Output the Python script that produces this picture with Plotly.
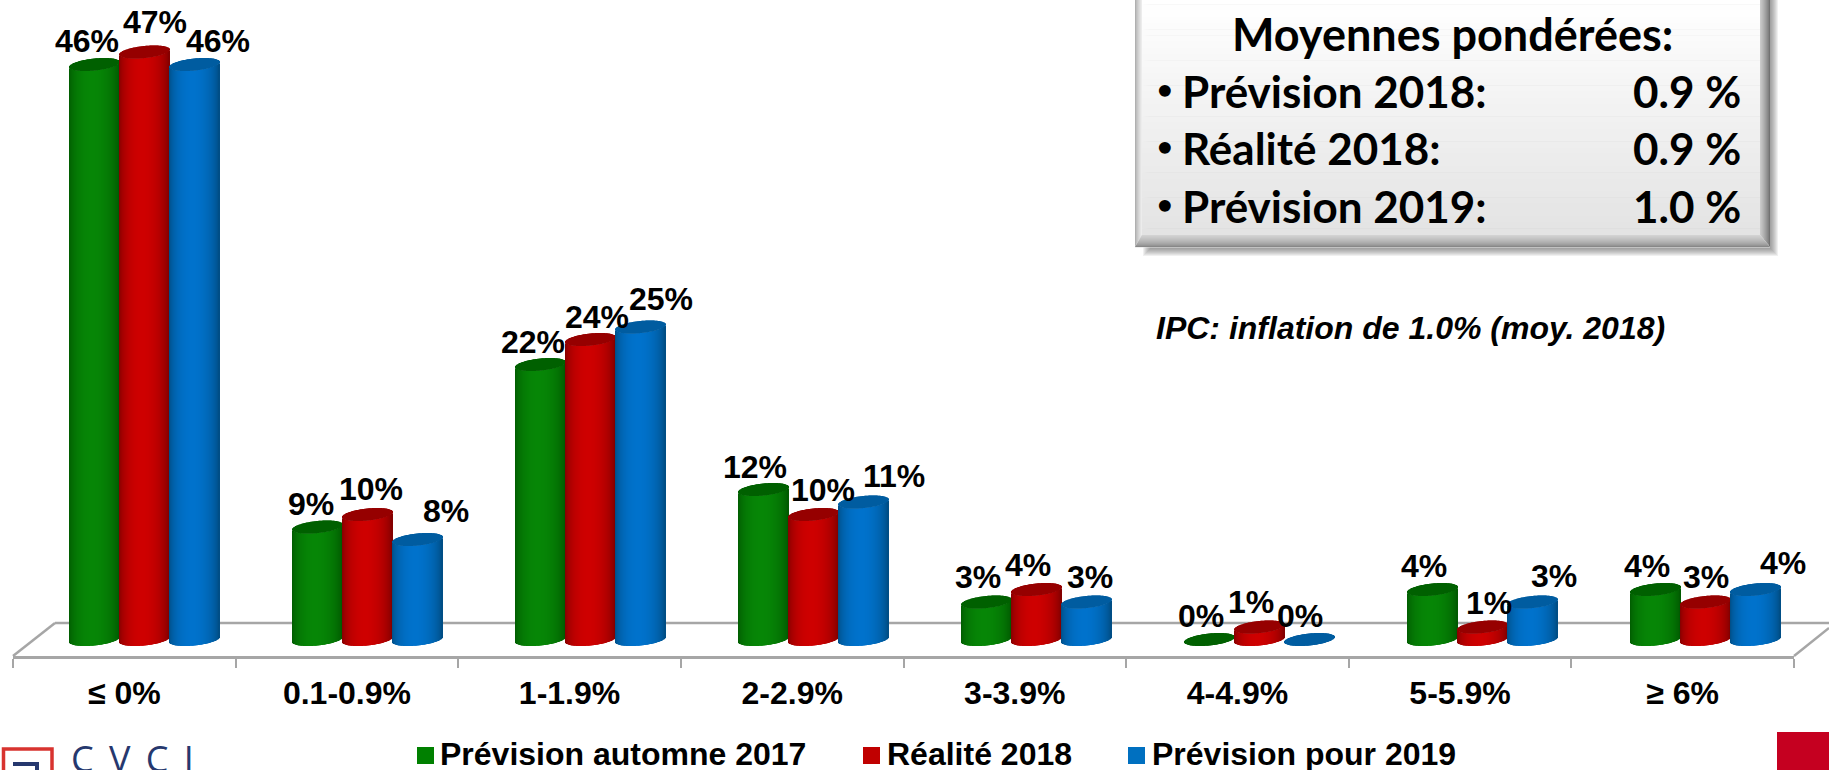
import math
import plotly.graph_objects as go

# ---------- data ----------
categories = ["≤ 0%", "0.1-0.9%", "1-1.9%", "2-2.9%", "3-3.9%", "4-4.9%", "5-5.9%", "≥ 6%"]
prevision_2017 = [46, 9, 22, 12, 3, 0, 4, 4]
realite_2018 = [47, 10, 24, 10, 4, 1, 1, 3]
prevision_2019 = [46, 8, 25, 11, 3, 0, 3, 4]
series_names = ["Prévision automne 2017", "Réalité 2018", "Prévision pour 2019"]

box_title = "Moyennes pondérées:"
box_rows = ["Prévision 2018:", "Réalité 2018:", "Prévision 2019:"]
box_values = ["0.9 %", "0.9 %", "1.0 %"]
note = "IPC: inflation de 1.0% (moy. 2018)"

# ---------- styles / geometry ----------
W, H = 1829, 770
AX_L, AX_R, AX_Y = 13, 1794, 656
PITCH = (AX_R - AX_L) / len(categories)
ZERO_PX, SCALE = 639.5, 12.5          # pixel of value 0, pixels per 1 %
BAR_W = 50
GROUP_SHIFT = 20.5
GROUP_DRIFT = 0.4
ELL_B, ELL_TILT = 6.0, 2.5
STYLES = [
    dict(edge=(0, 84, 0), mid=(6, 134, 6), cap=(0, 96, 0), sw="#008000", off=-50),
    dict(edge=(120, 0, 0), mid=(206, 0, 0), cap=(150, 0, 0), sw="#C00000", off=0),
    dict(edge=(0, 72, 122), mid=(0, 114, 204), cap=(0, 92, 160), sw="#0070C0", off=50),
]
# manual label displacement from the centre of each bar (px): one row per group
LABEL_DX = [[-8, 10, 23], [-7, 3, 28], [-8, 6, 20], [-9, 9, 30],
            [-9, -9, 3], [-9, -9, -10], [-9, 6, 21], [-9, 0, 27]]
LABEL_DY = [[12, 18, 12], [11, 14, 17], [11, 11, 16], [11, 13, 14],
            [13, 13, 13], [12, 13, 12], [12, 12, 14], [12, 13, 15]]

FONT = "Liberation Sans"
LATO = "Lato"


def X(px):
    return (px - AX_L) / (AX_R - AX_L)


def Y(py):
    return (AX_Y - py) / AX_Y


def mix(a, b, f):
    return "rgb(%d,%d,%d)" % tuple(round(a[i] + (b[i] - a[i]) * f) for i in range(3))


def group_shift(i):
    return GROUP_SHIFT + GROUP_DRIFT * i


def series_traces(values, st):
    xs, offs, wid, body_base, body_h, cap_base, cap_h, cols = [], [], [], [], [], [], [], []
    for i, v in enumerate(values):
        for j in range(BAR_W):
            u = (j + .5) / BAR_W * 2 - 1
            r = math.sqrt(1 - u * u)
            t = (u + 1) / 2
            f = math.sin(math.pi * t ** 0.9) ** 0.55
            low = (ELL_TILT * u - ELL_B * r) / SCALE
            xs.append(categories[i])
            offs.append((group_shift(i) + st["off"] - BAR_W / 2 + j) / PITCH)
            wid.append(1 / PITCH)
            body_base.append(low)
            body_h.append(v)
            cap_base.append(v + low)
            cap_h.append(2 * ELL_B * r / SCALE)
            cols.append(mix(st["edge"], st["mid"], f))
    common = dict(x=xs, offset=offs, width=wid, hoverinfo="skip", showlegend=False)
    body = go.Bar(y=body_h, base=body_base, marker=dict(color=cols, line=dict(width=0)), **common)
    cap = go.Bar(y=cap_h, base=cap_base, marker=dict(color="rgb(%d,%d,%d)" % st["cap"], line=dict(width=0)), **common)
    return [body, cap]


fig = go.Figure()
all_series = [prevision_2017, realite_2018, prevision_2019]
for vals, st in zip(all_series, STYLES):
    fig.add_traces(series_traces(vals, st))

shapes = []


def rect(x0, y0, x1, y1, color, layer="above"):
    shapes.append(dict(type="rect", xref="paper", yref="paper", x0=X(x0), x1=X(x1), y0=Y(y0), y1=Y(y1),
                       fillcolor=color, line=dict(width=0), layer=layer))


def line(x0, y0, x1, y1, color="#A6A6A6", w=2.5):
    shapes.append(dict(type="line", xref="paper", yref="paper", x0=X(x0), x1=X(x1), y0=Y(y0), y1=Y(y1),
                       line=dict(color=color, width=w), layer="below"))


def poly(pts, color):
    d = "M " + " L ".join("%.5f,%.5f" % (X(a), Y(b)) for a, b in pts) + " Z"
    shapes.append(dict(type="path", xref="paper", yref="paper", path=d, fillcolor=color,
                       line=dict(width=0), layer="above"))


# floor of the 3-D chart
line(13, 656, 55, 623)
line(55, 623, 1829, 623)
line(1794, 656, 1829, 628)

# summary box: shadow, gradient, bevels
BL, BR, BB = 1135, 1770, 247
for k in range(8):
    rect(BL + 8 + k, -5, BR + 8 - k, BB + 9 - k, "rgba(90,90,90,0.09)")
steps = 40
for k in range(steps):
    y0 = -2 + (BB + 2) * k / steps
    y1 = -2 + (BB + 2) * (k + 1) / steps
    rect(BL, y0, BR, y1 + .5, mix((255, 255, 255), (226, 226, 226), k / (steps - 1)))
# mitred bevel, outside to inside, one thin band at a time
BEV_L, BEV_R, BEV_B = 7, 10, 12
for k in range(BEV_L):
    f = (k + .5) / BEV_L
    g = k / BEV_L
    h = (k + 1) / BEV_L
    poly([(BL + k, -2), (BL + k + 1, -2), (BL + k + 1, BB - BEV_B * h - .5), (BL + k, BB - BEV_B * g)],
         mix((165, 165, 165), (240, 240, 240), f ** 0.7))
for k in range(BEV_R):
    f = (k + .5) / BEV_R
    g = k / BEV_R
    h = (k + 1) / BEV_R
    poly([(BR - k, -2), (BR - k - 1, -2), (BR - k - 1, BB - BEV_B * h - .5), (BR - k, BB - BEV_B * g)],
         mix((100, 100, 100), (205, 205, 205), f ** 0.7))
for k in range(BEV_B):
    f = (k + .5) / BEV_B
    g = k / BEV_B
    h = (k + 1) / BEV_B
    poly([(BL + BEV_L * g, BB - k), (BL + BEV_L * h, BB - k - 1), (BR - BEV_R * h, BB - k - 1), (BR - BEV_R * g, BB - k)],
         mix((120, 120, 120), (212, 212, 212), f ** 0.55))

# legend swatches
for st, x0 in zip(STYLES, [417, 863, 1128]):
    rect(x0, 747, x0 + 17, 764, st["sw"])

# logo and corner block
rect(1777, 732, 1829, 770, "#C50020")
shapes.append(dict(type="path", xref="paper", yref="paper", layer="above", fillcolor="rgba(0,0,0,0)",
                   line=dict(color="#D8332F", width=3.5),
                   path="M %f,%f L %f,%f L %f,%f L %f,%f Z" % (X(3.5), Y(775), X(3.5), Y(749), X(52), Y(749), X(52), Y(775))))
shapes.append(dict(type="path", xref="paper", yref="paper", layer="above", fillcolor="rgba(0,0,0,0)",
                   line=dict(color="#26386E", width=4),
                   path="M %f,%f L %f,%f L %f,%f" % (X(13), Y(764), X(37), Y(764), X(37), Y(775))))

ann = []


def txt(px, py, s, size, anchor="center", color="#000000", family=FONT, bold=True, italic=False):
    t = "<b>%s</b>" % s if bold else s
    if italic:
        t = "<i>%s</i>" % t
    ann.append(dict(xref="paper", yref="paper", x=X(px), y=Y(py), text=t, showarrow=False, xanchor=anchor,
                    yanchor="middle", borderpad=0, font=dict(family=family, size=size, color=color)))


# data labels, tied to the category and value
for g in range(len(categories)):
    for s, (vals, st) in enumerate(zip(all_series, STYLES)):
        ann.append(dict(xref="x", yref="y", x=categories[g], y=vals[g], text="<b>%d%%</b>" % vals[g],
                        showarrow=False, xanchor="center", yanchor="bottom", borderpad=0,
                        xshift=group_shift(g) + st["off"] + LABEL_DX[g][s], yshift=LABEL_DY[g][s] - 7,
                        font=dict(family=FONT, size=32, color="#000000")))

# box text
txt(1452, 34, box_title, 45, family=LATO)
for name, val, base in zip(box_rows, box_values, [91, 148, 206]):
    txt(1156, base - 3, "•", 27, anchor="left", family=LATO)
    txt(1181, base, name, 44, anchor="left", family=LATO)
    txt(1742, base, val, 44, anchor="right", family=LATO)

txt(1155, 328, note, 32, anchor="left", italic=True)

# legend
for name, px in zip(series_names, [439, 886, 1151]):
    txt(px, 754, name, 32, anchor="left")

# logo lettering
txt(70, 758, "C \u2009V \u2009C \u2009I", 36, anchor="left", color="#26386E", family="Open Sans", bold=False)

fig.update_layout(
    width=W, height=H, autosize=False,
    margin=dict(l=AX_L, r=W - AX_R, t=0, b=H - AX_Y, pad=0),
    paper_bgcolor="white", plot_bgcolor="rgba(0,0,0,0)",
    barmode="overlay", showlegend=False, shapes=shapes, annotations=ann,
    xaxis=dict(type="category", categoryorder="array", categoryarray=categories,
               range=[-0.5, len(categories) - 0.5], tickson="boundaries", ticks="outside", ticklen=9, tickwidth=1.5,
               tickcolor="#A6A6A6", showline=True, linecolor="#A6A6A6", linewidth=3, showgrid=False, zeroline=False,
               tickfont=dict(family=FONT, size=32, color="#000000"), ticklabelstandoff=7,
               tickprefix="<b>", ticksuffix="</b>", fixedrange=True),
    yaxis=dict(range=[(ZERO_PX - AX_Y) / SCALE, ZERO_PX / SCALE], visible=False, showgrid=False, zeroline=False, fixedrange=True),
)
fig.write_html("out.html", config=dict(displayModeBar=False),
               post_script="document.body.style.margin='0';document.body.style.overflow='hidden';")
